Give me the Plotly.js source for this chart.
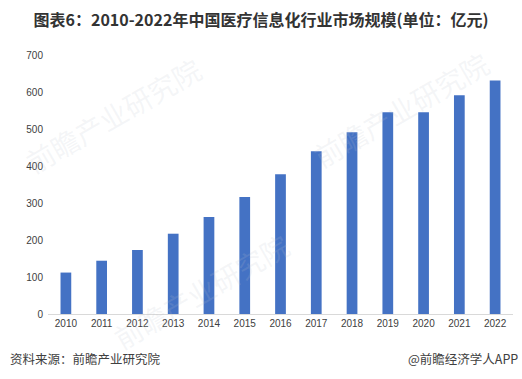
<!DOCTYPE html>
<html><head><meta charset="utf-8">
<script src="https://cdn.plot.ly/plotly-3.0.1.min.js"></script>
<style>html,body{margin:0;padding:0;background:#fff}#c{width:522px;height:379px}</style>
</head><body><div id="c"></div>
<script>
const years = ["2010","2011","2012","2013","2014","2015","2016","2017","2018","2019","2020","2021","2022"];
const values = [112,144,173,217,262,316,378,440,491,545,545,591,631];
const yTicks = [0,100,200,300,400,500,600,700];

const cjk = '"Noto Sans CJK SC", "Microsoft YaHei", sans-serif';
const wm = [];
const wmPos = [[0.14,0.77],[0.76,0.79],[0.33,0.09]];
wmPos.forEach(p => wm.push({xref:'paper',yref:'paper',x:p[0],y:p[1],xanchor:'center',yanchor:'middle',text:'前瞻产业研究院',showarrow:false,textangle:-30,
  font:{family:cjk,size:28,color:'rgba(190,195,205,0.16)'}}));

Plotly.newPlot('c', [{
  type:'bar', x:years, y:values, marker:{color:'#4472C4'}, width:0.3
}], {
  width:522, height:379,
  margin:{l:48,r:9,t:55,b:65},
  paper_bgcolor:'#fff', plot_bgcolor:'#fff',
  title:{text:'<b>图表6：2010-2022年中国医疗信息化行业市场规模(单位：亿元)</b>', x:0.5, xanchor:'center', y:0.945, yanchor:'middle',
    font:{family:cjk,size:16,color:'#333'}},
  xaxis:{type:'category', showline:true, linecolor:'#d9d9d9', linewidth:1, ticks:'', showgrid:false,
    tickfont:{family:'"Liberation Sans", Arial, sans-serif',size:10,color:'#404040'}},
  yaxis:{range:[0,700], tickvals:yTicks, showgrid:false, zeroline:false, showline:false, ticks:'',
    tickfont:{family:'"Liberation Sans", Arial, sans-serif',size:10,color:'#404040'}, ticklabelstandoff:4},
  annotations: wm.concat([
    {xref:'paper',yref:'paper',x:-0.085,y:-0.17,xanchor:'left',yanchor:'middle',showarrow:false,text:'资料来源：前瞻产业研究院',
      font:{family:cjk,size:12.5,color:'#404040'}},
    {xref:'paper',yref:'paper',x:1.015,y:-0.17,xanchor:'right',yanchor:'middle',showarrow:false,text:'@前瞻经济学人APP',
      font:{family:cjk,size:12.5,color:'#404040'}}
  ]),
  showlegend:false
}, {displayModeBar:false, staticPlot:true});
</script></body></html>
